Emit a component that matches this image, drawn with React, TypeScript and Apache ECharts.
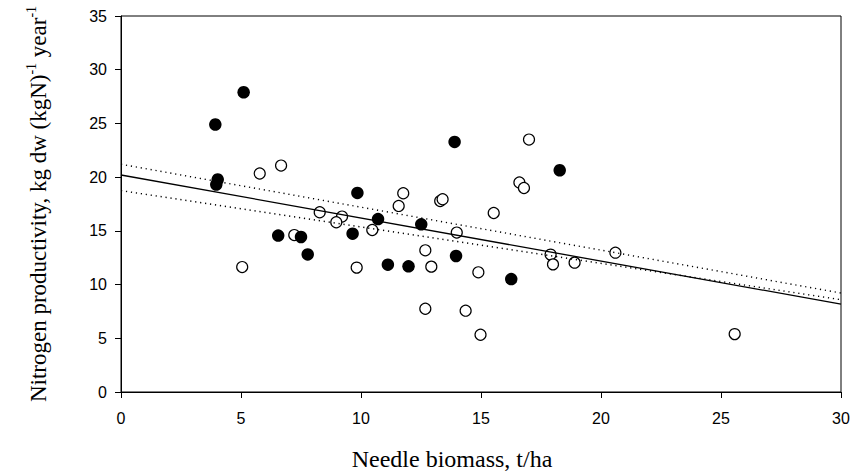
import React, { useEffect, useRef } from "react";
import * as echarts from "echarts";

const xTicks = [0, 5, 10, 15, 20, 25, 30];
const yTicks = [0, 5, 10, 15, 20, 25, 30, 35];

const filledX = [5.11, 3.93, 4.03, 3.97, 6.55, 7.5, 7.78, 13.9, 9.85, 10.71, 12.51, 9.65, 13.96, 11.12, 11.98, 18.28, 16.26];
const filledY = [27.9, 24.9, 19.78, 19.31, 14.56, 14.43, 12.81, 23.28, 18.53, 16.1, 15.61, 14.74, 12.66, 11.85, 11.7, 20.64, 10.51];

const openX = [5.78, 6.67, 7.22, 5.05, 11.76, 11.57, 13.3, 13.4, 15.53, 8.28, 9.21, 8.97, 10.47, 13.99, 12.68, 9.82, 12.93, 14.89, 12.68, 14.36, 14.98, 17.0, 16.6, 16.79, 17.9, 18.0, 18.9, 20.6, 25.57];
const openY = [20.34, 21.08, 14.61, 11.63, 18.5, 17.32, 17.78, 17.94, 16.66, 16.73, 16.33, 15.8, 15.08, 14.84, 13.19, 11.58, 11.67, 11.14, 7.75, 7.57, 5.33, 23.5, 19.5, 18.99, 12.79, 11.88, 12.04, 12.97, 5.39];

const fitX = [0, 30];
const fitY = [20.2, 8.18];
const dottedAY = [21.2, 9.21];
const dottedBY = [18.75, 8.59];

const xTitle = "Needle biomass, t/ha";
const yTitleMain = "Nitrogen productivity, kg dw (kgN)";
const yTitleTail = " year";
const supText = "-1";

const zip = (xs: number[], ys: number[]) => xs.map((x, i) => [x, ys[i]]);

export default function App() {
  const ref = useRef<HTMLDivElement>(null);
  useEffect(() => {
    if (!ref.current) return;
    const chart = echarts.init(ref.current, undefined, { renderer: "svg" });
    const serif = "Liberation Serif";
    const sans = "Liberation Sans";
    const axisCommon = {
      axisLine: { show: true, onZero: false, lineStyle: { color: "#000", width: 1 } },
      axisTick: { show: true, inside: false, length: 6, lineStyle: { color: "#000", width: 1 } },
      splitLine: { show: false },
    };
    const lineSeries = (ys: number[], type: any, name: string) => ({
      type: "line",
      name,
      data: zip(fitX, ys),
      showSymbol: false,
      symbol: "none",
      z: 5,
      lineStyle: { color: "#000", width: type === "solid" ? 1.3 : 1.4, type },
      silent: true,
    });
    chart.setOption({
      animation: false,
      backgroundColor: "#fff",
      grid: {
        left: 121,
        right: 14,
        top: 16,
        bottom: 83,
        show: true,
        borderColor: "#000",
        borderWidth: 1,
        backgroundColor: "transparent",
      },
      xAxis: {
        type: "value",
        min: xTicks[0],
        max: xTicks[xTicks.length - 1],
        interval: 5,
        ...axisCommon,
        axisLabel: { color: "#000", fontFamily: sans, fontSize: 16, margin: 18 },
      },
      yAxis: {
        type: "value",
        min: yTicks[0],
        max: yTicks[yTicks.length - 1],
        interval: 5,
        ...axisCommon,
        axisLabel: { color: "#000", fontFamily: sans, fontSize: 16, margin: 14 },
      },
      series: [
        {
          type: "scatter",
          name: "open",
          data: zip(openX, openY),
          symbol: "circle",
          symbolSize: 11,
          z: 3,
          itemStyle: { color: "#fff", borderColor: "#000", borderWidth: 1.2, opacity: 1 },
        },
        {
          type: "scatter",
          name: "filled",
          data: zip(filledX, filledY),
          symbol: "circle",
          symbolSize: 12.5,
          z: 4,
          itemStyle: { color: "#000", opacity: 1 },
        },
        lineSeries(fitY, "solid", "fit"),
        lineSeries(dottedAY, [1.2, 3.8], "ciA"),
        lineSeries(dottedBY, [1.2, 3.8], "ciB"),
      ],
      graphic: [
        {
          type: "text",
          x: 452,
          y: 459,
          style: {
            text: xTitle,
            fontFamily: serif,
            fontSize: 24,
            fill: "#000",
            align: "center",
            verticalAlign: "middle",
          },
        },
        {
          type: "text",
          x: 38,
          y: 204,
          rotation: Math.PI / 2,
          style: {
            text: `{m|${yTitleMain}}{s|${supText}}{m|${yTitleTail}}{s|${supText}}`,
            align: "center",
            verticalAlign: "middle",
            fill: "#000",
            rich: {
              m: { fontFamily: serif, fontSize: 23, lineHeight: 28, fill: "#000" },
              s: { fontFamily: serif, fontSize: 14, lineHeight: 14, verticalAlign: "top", fill: "#000" },
            },
          },
        },
      ],
    });
    return () => chart.dispose();
  }, []);
  return <div ref={ref} style={{ width: 855, height: 475, position: "absolute", left: 0, top: 0 }} />;
}
